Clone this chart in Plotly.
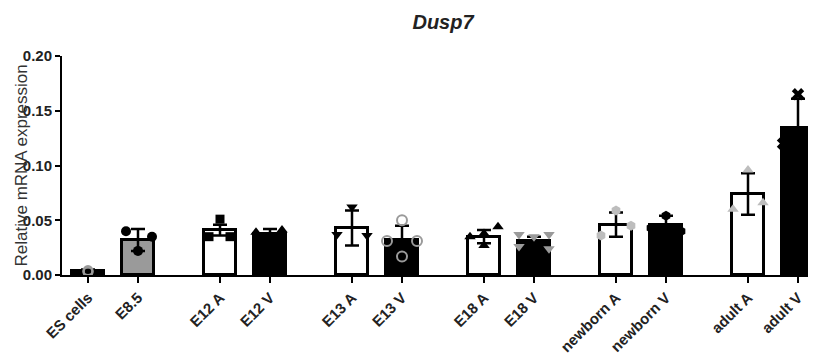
import plotly.graph_objects as go

# ---------------- data ----------------
categories = ["ES cells", "E8.5", "E12 A", "E12 V", "E13 A", "E13 V",
              "E18 A", "E18 V", "newborn A", "newborn V", "adult A", "adult V"]
group_index = [0, 0, 1, 1, 2, 2, 3, 3, 4, 4, 5, 5]
within_index = [0, 1, 0, 1, 0, 1, 0, 1, 0, 1, 0, 1]

bar_means = [0.004, 0.032, 0.041, 0.037, 0.043, 0.032,
             0.035, 0.031, 0.046, 0.046, 0.074, 0.134]
bar_sds = [0.001, 0.010, 0.005, 0.005, 0.016, 0.013,
           0.006, 0.004, 0.011, 0.008, 0.019, 0.027]

points_es = [0.003, 0.004, 0.003]
points_e85 = [0.040, 0.035, 0.022]
points_e12a = [0.051, 0.035, 0.035]
points_e12v = [0.039, 0.041, 0.029]
points_e13a = [0.062, 0.037, 0.036]
points_e13v = [0.050, 0.031, 0.031, 0.017]
points_e18a = [0.044, 0.038, 0.035, 0.027]
points_e18v = [0.037, 0.035, 0.037, 0.026, 0.024]
points_nba = [0.059, 0.036, 0.045]
points_nbv = [0.054, 0.043, 0.040]
points_ada = [0.096, 0.060, 0.066]
points_adv = [0.165, 0.120, 0.118]

y_tick_values = [0.00, 0.05, 0.10, 0.15, 0.20]
y_tick_labels = ["0.00", "0.05", "0.10", "0.15", "0.20"]

title_text = "Dusp7"
y_title_text = "Relative mRNA expression"

# ---------------- layout / style ----------------
GROUP_STEP = 2.64
x_pos = [g * GROUP_STEP + w for g, w in zip(group_index, within_index)]

bar_fill = ["#000000", "#9a9a9a", "#ffffff", "#000000", "#ffffff", "#000000",
            "#ffffff", "#000000", "#ffffff", "#000000", "#ffffff", "#000000"]

all_points = [points_es, points_e85, points_e12a, points_e12v, points_e13a, points_e13v,
              points_e18a, points_e18v, points_nba, points_nbv, points_ada, points_adv]
point_offsets = [
    [0, 0, 0],
    [-0.24, 0.28, 0],
    [0, -0.22, 0.2],
    [-0.28, 0.24, 0],
    [0, -0.3, 0.3],
    [0, -0.3, 0.3, 0],
    [0.28, 0, -0.28, 0],
    [-0.3, 0, 0.3, -0.3, 0.3],
    [0, -0.3, 0.3],
    [0, -0.3, 0.3],
    [0, -0.3, 0.3],
    [0, -0.3, 0.3],
]
point_style = [
    dict(symbol="circle-open", color="#9a9a9a", size=9, line=dict(width=2, color="#9a9a9a")),
    dict(symbol="circle", color="#000000", size=10),
    dict(symbol="square", color="#000000", size=9),
    dict(symbol="triangle-up", color="#000000", size=10),
    dict(symbol="triangle-down", color="#000000", size=10),
    dict(symbol="circle-open", color="#9a9a9a", size=10, line=dict(width=2, color="#9a9a9a")),
    dict(symbol="triangle-up", color="#000000", size=10),
    dict(symbol="triangle-down", color="#9a9a9a", size=10),
    dict(symbol="hexagon", color="#bdbdbd", size=10),
    dict(symbol="hexagon", color="#000000", size=10),
    dict(symbol="triangle-up", color="#bdbdbd", size=10),
    dict(symbol="x", color="#000000", size=11),
]

FONT = "Liberation Sans, Arial, sans-serif"
FIG_W, FIG_H = 808, 348   # page body has an 8px margin
M_L, M_T, M_B, M_R = 54, 48, 81, 0
PLOT_W = FIG_W - M_L - M_R

fig = go.Figure()
fig.add_trace(go.Bar(
    x=x_pos, y=bar_means, width=0.64,
    marker=dict(color=bar_fill, line=dict(color="#000000", width=3)),
    error_y=dict(type="data", array=bar_sds, visible=True, color="#000000",
                 thickness=2.5, width=7),
    showlegend=False, hoverinfo="skip",
))

for xp, pts, offs, st in zip(x_pos, all_points, point_offsets, point_style):
    fig.add_trace(go.Scatter(
        x=[xp + o for o in offs], y=pts, mode="markers",
        marker=st, showlegend=False, cliponaxis=False,
    ))

fig.update_layout(
    width=FIG_W, height=FIG_H,
    margin=dict(l=M_L, r=M_R, t=M_T, b=M_B),
    paper_bgcolor="white", plot_bgcolor="white",
    title=dict(text="<b><i>" + title_text + "</i></b>", x=435 / FIG_W, xanchor="center",
               y=1 - 14 / FIG_H, yanchor="middle",
               font=dict(family=FONT, size=20, color="#222222")),
    font=dict(family=FONT, color="#222222"),
    bargap=0,
    annotations=[dict(
        text=y_title_text, textangle=-90, xref="paper", yref="paper",
        x=(13 - M_L) / PLOT_W, xanchor="center", y=0.5, yanchor="middle", showarrow=False,
        font=dict(family=FONT, size=17, color="#333333"),
    )],
)
fig.update_xaxes(
    range=[-0.52, 14.56], tickvals=x_pos, ticktext=categories, tickangle=-45,
    showline=True, linecolor="#000000", linewidth=2,
    ticks="outside", ticklen=6, tickwidth=2, tickcolor="#000000",
    showgrid=False, zeroline=False, automargin=False,
    tickfont=dict(family=FONT, size=15, color="#222222", weight="bold"),
)
fig.update_yaxes(
    range=[0, 0.20], tickvals=y_tick_values, ticktext=y_tick_labels,
    showline=True, linecolor="#000000", linewidth=2,
    ticks="outside", ticklen=5, tickwidth=2, tickcolor="#000000",
    showgrid=False, zeroline=False, automargin=False,
    tickfont=dict(family=FONT, size=15, color="#222222", weight="bold"),
)

fig.write_html("out.html")
